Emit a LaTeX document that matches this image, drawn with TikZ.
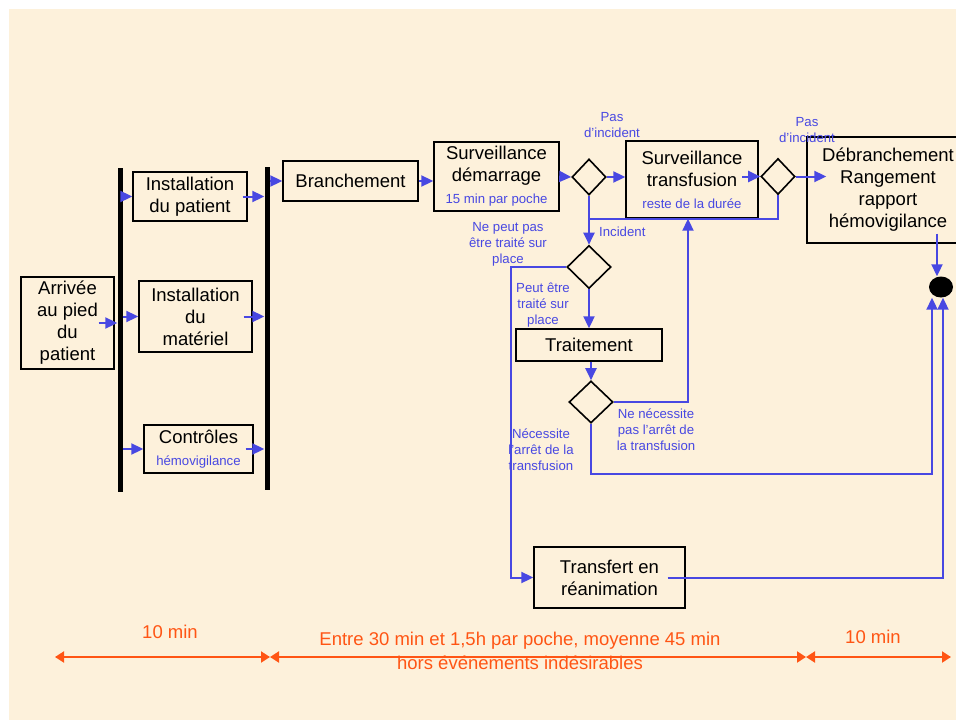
\documentclass[tikz,border=0pt]{standalone}
\usepackage{fontspec}
\setmainfont{Liberation Sans}
\usetikzlibrary{arrows.meta, shapes.geometric, calc}
\definecolor{parchment}{RGB}{253,241,219}
\definecolor{flowblue}{RGB}{72,72,226}
\definecolor{durorange}{RGB}{255,85,20}
\newcommand{\bigtxt}{\fontsize{18.5}{22}\selectfont}
\newcommand{\smalltxt}{\fontsize{13.2}{16}\selectfont}

\begin{document}
\begin{tikzpicture}[x=1pt,y=-1pt,
    box/.style={draw,line width=1.4pt,align=center,inner sep=0pt,font=\bigtxt},
    dia/.style={draw,diamond,line width=1.6pt,inner sep=0pt,minimum width=34pt,minimum height=36pt},
    lbl/.style={align=center,font=\smalltxt,text=flowblue,inner sep=0pt},
    arr/.style={flowblue,line width=2pt,-{Triangle[length=12pt,width=11pt]}},
    flow/.style={flowblue,line width=2pt},
    dur/.style={durorange,line width=2pt,{Triangle[length=9pt,width=11pt]}-{Triangle[length=9pt,width=11pt]}},
    durtxt/.style={text=durorange,font=\bigtxt,align=center,inner sep=0pt}]
    \path[use as bounding box] (0,0) rectangle (956,720);
    \clip (0,0) rectangle (956,720);
    \fill[parchment] (9,9) rectangle (960,724);

    % synchro bars
    \node[fill=black,inner sep=0pt,minimum width=5pt,minimum height=324pt] (bar1) at (120,330) {};
    \node[fill=black,inner sep=0pt,minimum width=5pt,minimum height=323pt] (bar2) at (267,328.5) {};

    % preparation
    \node[box,minimum width=93pt,minimum height=92pt] (arrivee) at (67.5,323) {Arrivée\\au pied\\du\\patient};
    \node[box,minimum width=114pt,minimum height=49pt] (instpat) at (190,196.5) {Installation\\du patient};
    \node[box,minimum width=113pt,minimum height=71pt] (instmat) at (195.5,316.5) {Installation\\du\\matériel};
    \node[box,minimum width=109pt,minimum height=48pt] (controles) at (198.5,449) {Contrôles\\{\smalltxt\color{flowblue}hémovigilance}};

    % transfusion
    \node[box,minimum width=135pt,minimum height=40pt] (branch) at (350.5,181) {Branchement};
    \node[box,minimum width=125pt,minimum height=69pt] (survdem) at (496.5,176.5) {Surveillance\\démarrage\\{\smalltxt\color{flowblue}15 min par poche}};
    \node[dia] (d1) at (589,177) {};
    \node[box,minimum width=132pt,minimum height=77pt] (survtr) at (692,179.5) {Surveillance\\transfusion\\{\smalltxt\color{flowblue}reste de la durée}};
    \node[dia] (d2) at (778,176.5) {};
    \node[box,minimum width=162pt,minimum height=106pt] (debr) at (888,190) {Débranchement\\Rangement\\rapport\\hémovigilance};
    \node[ellipse,fill=black,inner sep=0pt,minimum width=24pt,minimum height=21pt] (dot) at (941,287) {};

    % incident
    \node[dia,minimum width=44pt,minimum height=43pt] (d3) at (589,267) {};
    \node[box,minimum width=146pt,minimum height=32pt] (traitement) at (589,345) {Traitement};
    \node[dia,minimum width=44pt,minimum height=42pt] (d4) at (591,402) {};
    \node[box,minimum width=151pt,minimum height=61pt] (transfert) at (609.5,577.5) {Transfert en\\réanimation};

    % labels
    \node[lbl] (pas1) at (612,125.5) {Pas\\d’incident};
    \node[lbl] (pas2) at (807,130) {Pas\\d’incident};
    \node[lbl,anchor=west] (incid) at (599,232) {Incident};
    \node[lbl] (nepeut) at (508,244) {Ne peut pas\\être traité sur\\place};
    \node[lbl] (peut) at (543,305) {Peut être\\traité sur\\place};
    \node[lbl] (nenec) at (656,430) {Ne nécessite\\pas l’arrêt de\\la transfusion};
    \node[lbl] (nec) at (541,450) {Nécessite\\l’arrêt de la\\transfusion};

    % stubs round the bars
    \draw[arr] ([xshift=-16pt]arrivee.east) -- (arrivee.east -| bar1.west);
    \draw[arr] (instpat.west -| bar1.east) -- (instpat.west);
    \draw[arr] (instmat.west -| bar1.east) -- (instmat.west);
    \draw[arr] (controles.west -| bar1.east) -- (controles.west);
    \draw[arr] ([xshift=-5pt]instpat.east) -- (instpat.east -| bar2.west);
    \draw[arr] ([xshift=-9pt]instmat.east) -- (instmat.east -| bar2.west);
    \draw[arr] ([xshift=-8pt]controles.east) -- (controles.east -| bar2.west);
    \draw[arr] (branch.west -| bar2.east) -- (branch.west);

    % main flow
    \draw[arr] (branch.east) -- (branch.east -| survdem.west);
    \draw[arr] (survdem.east) -- (d1.west);
    \draw[arr] (d1.east) -- (d1.east -| survtr.west);
    \draw[arr] ($(d2.west)+(-18,0)$) -- (d2.west);
    \draw[arr] (d2.east) -- ($(d2.east -| debr.west)+(20,0)$);
    \draw[arr] ($(debr.south -| dot.north)+(-4,-10)$) -- ([xshift=-4pt]dot.north);

    % incident branch
    \coordinate (join) at (589,219);
    \coordinate (leftrail) at (511,267);
    \coordinate (lowrail) at (932,474);
    \draw[flow] (d2.south) |- (join);
    \draw[arr] (d1.south) -- (d3.north);
    \draw[arr] (d3.south) -- (traitement.north);
    \draw[arr] (traitement.south -| d4.north) -- (d4.north);
    \draw[arr] (d4.east) -| ([xshift=-4pt]survtr.south);
    \draw[arr] (d3.west) -- (leftrail) |- (transfert.west);
    \draw[arr] (d4.south) |- (lowrail) -- (lowrail |- dot.south);
    \draw[arr] ([xshift=-18pt]transfert.east) -| ([xshift=2pt]dot.south);

    % durations
    \coordinate (t0) at (55,657);
    \coordinate (t1) at (270,657);
    \coordinate (t2) at (806,657);
    \coordinate (t3) at (951,657);
    \draw[dur] (t0) -- (t1);
    \draw[dur] (t1) -- (t2);
    \draw[dur] (t2) -- (t3);
    \node[durtxt] (dur1) at (170,632) {10 min};
    \node[durtxt,font=\fontsize{18.5}{24}\selectfont] (dur2) at (520,651) {Entre 30 min et 1,5h par poche, moyenne 45 min\\hors événements indésirables};
    \node[durtxt] (dur3) at (873,637) {10 min};
\end{tikzpicture}
\end{document}
